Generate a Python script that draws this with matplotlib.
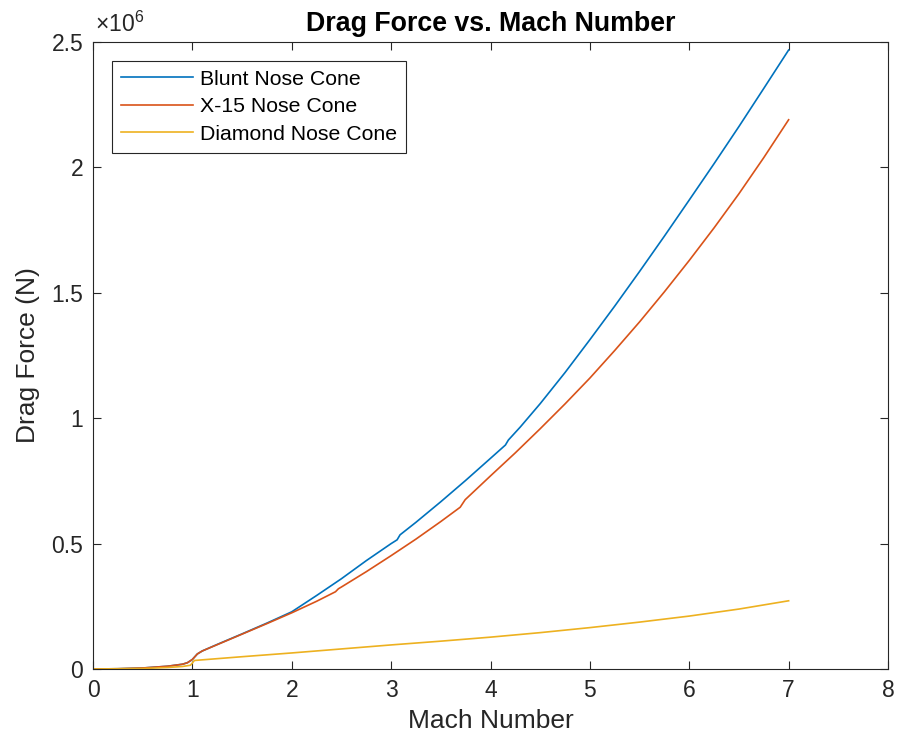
import matplotlib
matplotlib.use("Agg")
import matplotlib.pyplot as plt
from matplotlib.ticker import FuncFormatter

plt.rcParams['font.family'] = ['Liberation Sans', 'DejaVu Sans']
plt.rcParams['mathtext.fontset'] = 'custom'
plt.rcParams['mathtext.rm'] = 'Liberation Sans'

# Drag force (N) against Mach number for the three nose cone shapes
mach_blunt = [0, 0.25, 0.5, 0.75, 0.9, 0.95, 1.0, 1.05, 1.1, 1.25, 1.5, 1.75, 2.0,
              2.25, 2.5, 2.75, 3.0, 3.06, 3.09, 3.25, 3.5, 3.75, 4.0, 4.15, 4.18,
              4.3, 4.5, 4.75, 5.0, 5.25, 5.5, 5.75, 6.0, 6.25, 6.5, 6.75, 7.0]
drag_blunt = [0, 1e3, 4e3, 11e3, 19e3, 25e3, 38e3, 60e3, 72e3, 98e3, 140e3, 183e3, 228e3,
              293e3, 360e3, 432e3, 500e3, 515e3, 535e3, 585e3, 667e3, 752e3, 840e3, 893e3, 913e3,
              965e3, 1058e3, 1182e3, 1313e3, 1447e3, 1585e3, 1726e3, 1870e3, 2015e3, 2163e3, 2315e3, 2468e3]

mach_x15 = [0, 0.25, 0.5, 0.75, 0.9, 0.95, 1.0, 1.05, 1.1, 1.25, 1.5, 1.75, 2.0,
            2.25, 2.44, 2.47, 2.5, 2.75, 3.0, 3.25, 3.5, 3.695, 3.745, 4.0, 4.25,
            4.5, 4.75, 5.0, 5.25, 5.5, 5.75, 6.0, 6.25, 6.5, 6.75, 7.0]
drag_x15 = [0, 1e3, 4e3, 11e3, 19e3, 25e3, 38e3, 60e3, 72e3, 97e3, 139e3, 181e3, 224e3,
            270e3, 308e3, 320e3, 327e3, 388e3, 452e3, 518e3, 588e3, 645e3, 675e3, 770e3, 862e3,
            958e3, 1057e3, 1160e3, 1270e3, 1384e3, 1504e3, 1629e3, 1759e3, 1895e3, 2039e3, 2190e3]

mach_diamond = [0, 0.25, 0.5, 0.75, 0.9, 0.98, 1.0, 1.02, 1.5, 2.0, 2.5, 3.0, 3.5,
                4.0, 4.5, 5.0, 5.5, 6.0, 6.5, 7.0]
drag_diamond = [0, 1e3, 2e3, 6e3, 10e3, 15e3, 24e3, 34e3, 49e3, 64e3, 80e3, 96e3, 111e3,
                127e3, 145e3, 165e3, 187e3, 211e3, 239e3, 272e3]

labels = ['Blunt Nose Cone', 'X-15 Nose Cone', 'Diamond Nose Cone']
colors = ['#0072BD', '#D95319', '#EDB120']
axis_color = '#262626'

fig = plt.figure(figsize=(8.98, 7.44), dpi=100)
ax = fig.add_axes([93 / 898, 75 / 744, 795 / 898, 627 / 744])

ax.plot(mach_blunt, drag_blunt, color=colors[0], lw=1.2, label=labels[0])
ax.plot(mach_x15, drag_x15, color=colors[1], lw=1.2, label=labels[1])
ax.plot(mach_diamond, drag_diamond, color=colors[2], lw=1.2, label=labels[2])

ax.set_xlim(0, 8)
ax.set_ylim(0, 2.5e6)
ax.set_xticks(range(0, 9))
ax.set_yticks([0, 0.5e6, 1e6, 1.5e6, 2e6, 2.5e6])
ax.yaxis.set_major_formatter(FuncFormatter(lambda v, p: '%g' % (v / 1e6)))

ax.tick_params(direction='in', length=6, width=0.8, top=True, right=True,
               labelsize=16.5, colors=axis_color, pad=7)
for s in ax.spines.values():
    s.set_color(axis_color)
    s.set_linewidth(0.8)

ax.text(0.003, 1.008, r'$\mathregular{\times10^{6}}$', transform=ax.transAxes,
        fontsize=16.5, color=axis_color, ha='left', va='bottom')

ax.set_xlabel('Mach Number', fontsize=19, color=axis_color, labelpad=5)
ax.set_ylabel('Drag Force (N)', fontsize=19, color=axis_color, labelpad=8)
ax.set_title('Drag Force vs. Mach Number', fontsize=19.3, fontweight='bold',
             color='black', pad=8)

leg = ax.legend(loc='upper left', bbox_to_anchor=(19 / 795, 1 - 19 / 627),
                borderaxespad=0, fontsize=15.3, fancybox=False, framealpha=1,
                edgecolor=axis_color, handlelength=3.4, handletextpad=0.3,
                labelspacing=0.4, borderpad=0.42)
leg.get_frame().set_linewidth(0.8)

fig.savefig('out.png', dpi=100)
